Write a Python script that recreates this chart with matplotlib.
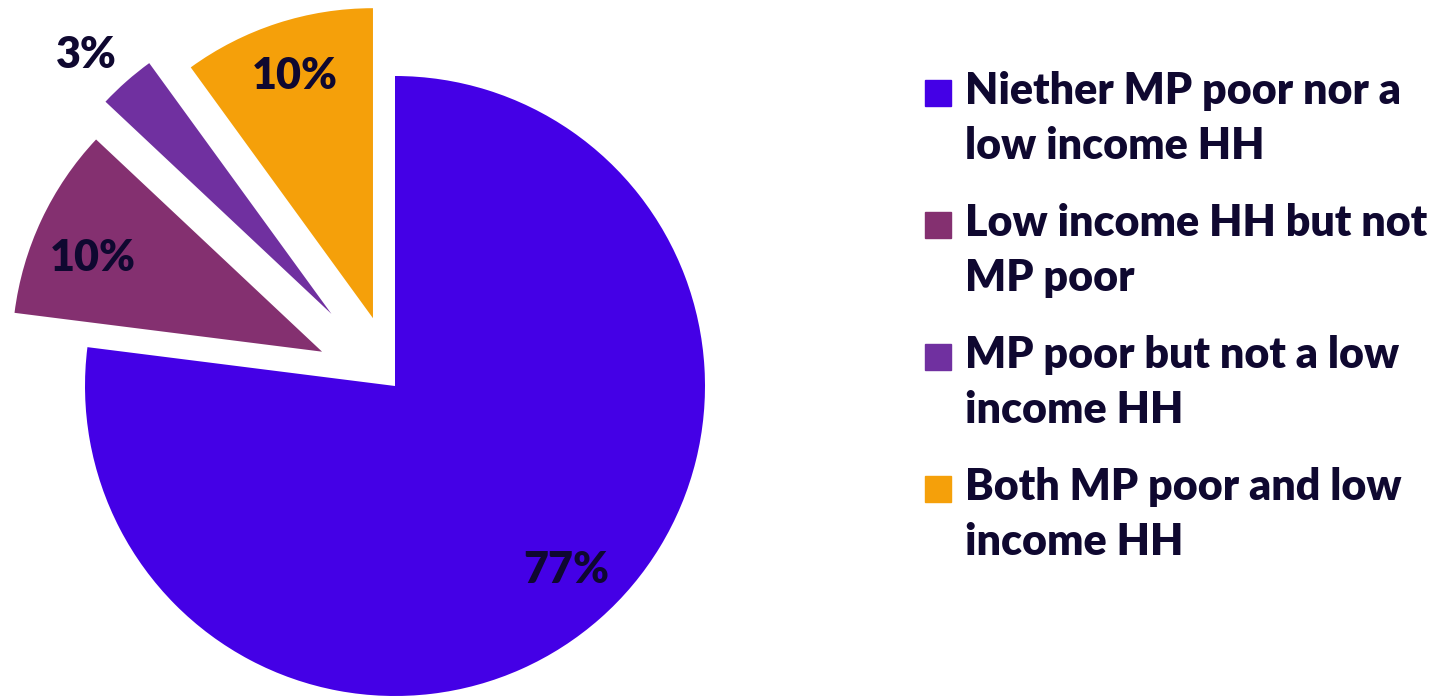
import numpy as np
import matplotlib
matplotlib.use("Agg")
import matplotlib.pyplot as plt
from matplotlib.patches import Rectangle

# data
labels = ["Niether MP poor nor a\nlow income HH",
          "Low income HH but not\nMP poor",
          "MP poor but not a low\nincome HH",
          "Both MP poor and low\nincome HH"]
values = [77, 10, 3, 10]
colors = ["#4400E6", "#843070", "#7030A0", "#F5A00A"]
explode = [0, 0.26, 0.31, 0.23]

text_color = "#0F0830"
plt.rcParams['font.family'] = ['Lato', 'DejaVu Sans']

W, H = 1443, 696
fig = plt.figure(figsize=(W / 100, H / 100), dpi=100)
ax = fig.add_axes([0, 0, 1, 1])

wedges, texts, autotexts = ax.pie(
    values, colors=colors, explode=explode,
    startangle=90, counterclock=False,
    autopct='%1.0f%%', pctdistance=0.81,
    textprops=dict(color=text_color, fontsize=31, fontweight='heavy'),
    wedgeprops=dict(linewidth=0))

# pie centre and radius in pixels
cx, cy, r = 395, 386, 310
ax.set_xlim(-cx / r, (W - cx) / r)
ax.set_ylim(-(H - cy) / r, cy / r)
ax.set_aspect('equal')
ax.axis('off')

# nudge percentage labels (3% sits outside its slice)
lab_dist = [0.81, 0.80, 1.15, 0.82]
lab_turn = [1.5, 3.0, 2.0, 0.0]
for w, t, d, a in zip(wedges, autotexts, lab_dist, lab_turn):
    mid = np.deg2rad((w.theta1 + w.theta2) / 2 + a)
    x0, y0 = w.center
    t.set_position((x0 + d * np.cos(mid), y0 + d * np.sin(mid)))

# legend drawn by hand so the marker lines up with the first line
leg_x, leg_y, step = 925, 93, 132
for i, (lab, col) in enumerate(zip(labels, colors)):
    yc = leg_y + i * step
    fig.patches.append(Rectangle((leg_x / W, 1 - (yc + 13) / H), 26 / W, 26 / H,
                                 transform=fig.transFigure, color=col))
    fig.text(965 / W, 1 - (yc - 22) / H, lab, ha='left', va='top',
             fontsize=31, fontweight='heavy', color=text_color,
             linespacing=1.45)

fig.savefig("out.png", dpi=100)
